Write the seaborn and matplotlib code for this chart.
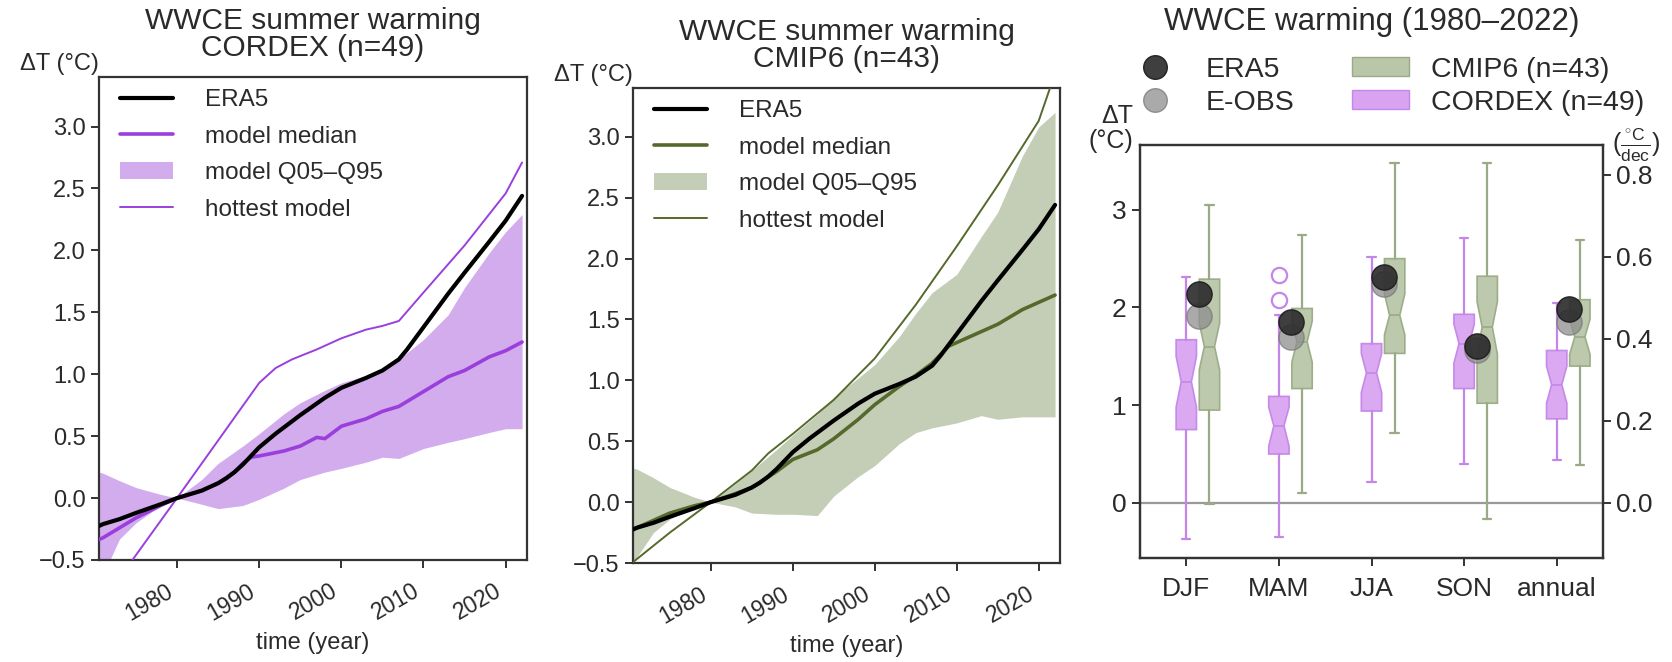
import numpy as np
import pandas as pd
import matplotlib
matplotlib.use("Agg")
import matplotlib.pyplot as plt
from matplotlib.lines import Line2D
from matplotlib.patches import Patch
import seaborn as sns

# ---------------------------------------------------------------- data
era5_years = [1970, 1971, 1973, 1975, 1978, 1980, 1983, 1985, 1986, 1987, 1988,
              1989, 1990, 1992, 1993, 1995, 1998, 2000, 2003, 2005, 2007, 2008,
              2010, 2013, 2015, 2018, 2020, 2022]
era5_dt = [-0.24, -0.21, -0.17, -0.12, -0.05, 0.0, 0.06, 0.12, 0.16, 0.21, 0.27,
           0.34, 0.41, 0.52, 0.57, 0.67, 0.81, 0.89, 0.97, 1.03, 1.12, 1.20,
           1.38, 1.65, 1.82, 2.07, 2.24, 2.44]

band_years = [1970, 1971, 1973, 1975, 1978, 1980, 1983, 1985, 1988, 1990, 1993,
              1995, 1998, 2000, 2003, 2005, 2007, 2010, 2013, 2015, 2018, 2020,
              2022]

# CORDEX ensemble
cordex_med_years = [1970, 1971, 1973, 1975, 1978, 1980, 1983, 1985, 1987, 1988,
                    1989, 1990, 1993, 1995, 1997, 1998, 2000, 2003, 2005, 2007,
                    2010, 2013, 2015, 2018, 2020, 2022]
cordex_median = [-0.35, -0.32, -0.24, -0.16, -0.06, 0.0, 0.06, 0.12, 0.21, 0.28,
                 0.33, 0.34, 0.38, 0.42, 0.49, 0.48, 0.58, 0.64, 0.70, 0.74,
                 0.86, 0.98, 1.03, 1.14, 1.19, 1.26]
cordex_hot_years = [1970, 1980, 1990, 1992, 1994, 1997, 2000, 2003, 2005, 2007,
                    2010, 2015, 2020, 2022]
cordex_hottest = [-0.92, 0.0, 0.93, 1.05, 1.12, 1.20, 1.29, 1.36, 1.39, 1.43,
                  1.66, 2.04, 2.46, 2.71]
cordex_q95 = [0.22, 0.20, 0.14, 0.085, 0.03, 0.0, 0.15, 0.28, 0.42, 0.52, 0.68,
              0.77, 0.87, 0.93, 0.99, 1.05, 1.12, 1.28, 1.48, 1.70, 1.98, 2.15,
              2.29]
cordex_q05 = [-0.70, -0.62, -0.33, -0.20, -0.06, 0.0, -0.05, -0.085, -0.06,
              -0.01, 0.08, 0.15, 0.21, 0.24, 0.29, 0.33, 0.32, 0.40, 0.45, 0.48,
              0.53, 0.56, 0.56]

# CMIP6 ensemble
cmip_med_years = [1970, 1971, 1973, 1975, 1978, 1980, 1983, 1985, 1988, 1990,
                  1993, 1995, 1998, 2000, 2003, 2005, 2007, 2009, 2012, 2015,
                  2018, 2020, 2022]
cmip_median = [-0.23, -0.21, -0.15, -0.09, -0.03, 0.0, 0.07, 0.12, 0.25, 0.35,
               0.43, 0.52, 0.68, 0.80, 0.95, 1.04, 1.14, 1.28, 1.37, 1.46,
               1.58, 1.64, 1.70]
cmip_hot_years = [1970, 1975, 1980, 1985, 1987, 1990, 1995, 2000, 2005, 2010,
                  2015, 2020, 2022]
cmip_hottest = [-0.52, -0.25, 0.0, 0.26, 0.40, 0.56, 0.84, 1.18, 1.62, 2.10,
                2.60, 3.13, 3.52]
cmip_q95 = [0.29, 0.27, 0.20, 0.12, 0.04, 0.0, 0.15, 0.26, 0.43, 0.55, 0.72,
            0.86, 1.02, 1.13, 1.36, 1.55, 1.72, 1.87, 2.18, 2.38, 2.84, 3.08,
            3.20]
cmip_q05 = [-0.52, -0.45, -0.25, -0.14, -0.04, 0.0, -0.04, -0.09, -0.10, -0.10,
            -0.11, 0.05, 0.21, 0.30, 0.48, 0.57, 0.61, 0.65, 0.71, 0.68, 0.70,
            0.70, 0.70]

# Seasonal warming 1980-2022 (degC)
seasons = ["DJF", "MAM", "JJA", "SON", "annual"]
cordex_whislo = [-0.37, -0.35, 0.21, 0.40, 0.44]
cordex_box_q1 = [0.75, 0.50, 0.94, 1.17, 0.86]
cordex_box_med = [1.24, 0.79, 1.33, 1.63, 1.21]
cordex_box_q3 = [1.67, 1.09, 1.63, 1.93, 1.56]
cordex_whishi = [2.31, 1.92, 2.52, 2.71, 2.05]
cordex_cilo = [0.98, 0.58, 1.13, 1.43, 1.02]
cordex_cihi = [1.50, 0.98, 1.53, 1.83, 1.40]
cordex_fliers = [[], [2.08, 2.33], [], [], []]

cmip_whislo = [-0.01, 0.10, 0.72, -0.16, 0.39]
cmip_box_q1 = [0.95, 1.17, 1.53, 1.02, 1.40]
cmip_box_med = [1.60, 1.65, 1.92, 1.80, 1.70]
cmip_box_q3 = [2.29, 1.99, 2.50, 2.32, 2.08]
cmip_whishi = [3.05, 2.74, 3.48, 3.48, 2.69]
cmip_cilo = [1.36, 1.44, 1.72, 1.52, 1.52]
cmip_cihi = [1.84, 1.86, 2.14, 2.06, 1.88]
cmip_fliers = [[], [], [], [], []]

era5_season = [2.14, 1.85, 2.31, 1.61, 1.98]
eobs_season = [1.91, 1.70, 2.24, 1.56, 1.85]

DECADES = 4.2  # 1980-2022

# ---------------------------------------------------------------- style
sns.set_style("ticks")
plt.rcParams["font.family"] = ["Liberation Sans", "DejaVu Sans"]
plt.rcParams["mathtext.fontset"] = "custom"
plt.rcParams["mathtext.rm"] = "Liberation Sans"
plt.rcParams["mathtext.it"] = "Liberation Sans:italic"
TXT = "#2a2a2a"
plt.rcParams.update({
    "text.color": TXT, "axes.labelcolor": TXT,
    "xtick.color": "#333333", "ytick.color": "#333333",
    "xtick.labelcolor": TXT, "ytick.labelcolor": TXT,
    "axes.edgecolor": "#333333", "axes.linewidth": 1.6,
    "xtick.major.width": 1.4, "ytick.major.width": 1.4,
    "xtick.major.size": 6, "ytick.major.size": 6,
})

PURPLE = "#9a3fdc"
PURPLE_BAND = "#d3acee"
GREEN = "#55692c"
GREEN_BAND = "#c4ceb6"
BOX_PURPLE = "#d9a3f2"
BOX_PURPLE_EDGE = "#c486e8"
BOX_GREEN = "#bac6a8"
BOX_GREEN_EDGE = "#9aaa86"

fig = plt.figure(figsize=(16.72, 6.62), dpi=100)
W, H = 1672.0, 662.0


def add_axes_px(x0, y0, x1, y1):
    return fig.add_axes([x0 / W, 1 - y1 / H, (x1 - x0) / W, (y1 - y0) / H])


ax1 = add_axes_px(99, 77, 527, 560)
ax2 = add_axes_px(633, 88, 1060, 563)
ax3 = add_axes_px(1140, 145, 1603, 558)

TICK_FS = 17
LEG_FS = 17.5
TITLE_FS = 21.5


def time_panel(ax, title, med_years, med, hot_years, hot, q05, q95,
               line_c, band_c):
    ax.fill_between(band_years, q05, q95, color=band_c, lw=0, zorder=1)
    sns.lineplot(x=hot_years, y=hot, ax=ax, color=line_c, lw=1.4, zorder=3)
    sns.lineplot(x=med_years, y=med, ax=ax, color=line_c, lw=2.6, zorder=4)
    sns.lineplot(x=era5_years, y=era5_dt, ax=ax, color="black", lw=3.0, zorder=5)
    ax.set_xlim(1970.5, 2022.6)
    ax.set_ylim(-0.5, 3.4)
    ax.set_xticks([1980, 1990, 2000, 2010, 2020])
    ax.set_yticks([-0.5, 0.0, 0.5, 1.0, 1.5, 2.0, 2.5, 3.0])
    ax.set_yticklabels(["\u22120.5", "0.0", "0.5", "1.0", "1.5", "2.0", "2.5", "3.0"])
    ax.tick_params(axis="y", labelsize=TICK_FS)
    ax.tick_params(axis="x", labelsize=16.5, pad=8)
    for lab in ax.get_xticklabels():
        lab.set_rotation(30)
        lab.set_ha("right")
    ax.set_xlabel("time (year)", fontsize=TICK_FS, labelpad=5)
    ax.set_ylabel("")
    ax.set_title(title, fontsize=TITLE_FS, pad=15, linespacing=0.95)
    ax.text(0.0, 1.005, "\u0394T (\u00b0C)", transform=ax.transAxes,
            ha="right", va="bottom", fontsize=TICK_FS)
    handles = [
        Line2D([], [], color="black", lw=3.0),
        Line2D([], [], color=line_c, lw=2.6),
        Patch(facecolor=band_c, edgecolor="none"),
        Line2D([], [], color=line_c, lw=1.4),
    ]
    labels = ["ERA5", "model median", "model Q05\u2013Q95", "hottest model"]
    ax.legend(handles, labels, loc="upper left", frameon=False,
              fontsize=LEG_FS, handlelength=2.2, handletextpad=1.3,
              labelspacing=0.6, borderaxespad=0.1, bbox_to_anchor=(0.02, 1.0))
    for s in ax.spines.values():
        s.set_visible(True)


time_panel(ax1, "WWCE summer warming\nCORDEX (n=49)", cordex_med_years,
           cordex_median, cordex_hot_years, cordex_hottest, cordex_q05,
           cordex_q95, PURPLE, PURPLE_BAND)
time_panel(ax2, "WWCE summer warming\nCMIP6 (n=43)", cmip_med_years,
           cmip_median, cmip_hot_years, cmip_hottest, cmip_q05, cmip_q95,
           GREEN, GREEN_BAND)

# ---------------------------------------------------------------- box panel
pos = np.arange(len(seasons))


def box_stats(lo, q1, med, q3, hi, cilo, cihi, fliers):
    return [dict(whislo=a, q1=b, med=c, q3=d, whishi=e, cilo=f, cihi=g,
                 fliers=np.array(h)) for a, b, c, d, e, f, g, h in
            zip(lo, q1, med, q3, hi, cilo, cihi, fliers)]


def draw_boxes(stats, positions, face, edge):
    ax3.bxp(stats, positions=positions, widths=0.22, capwidths=0.09,
            shownotches=True, patch_artist=True, manage_ticks=False,
            boxprops=dict(facecolor=face, edgecolor=edge, lw=1.2, alpha=0.95),
            whiskerprops=dict(color=edge, lw=1.6),
            capprops=dict(color=edge, lw=1.6),
            medianprops=dict(color=edge, lw=1.2),
            flierprops=dict(marker="o", markerfacecolor="none",
                            markeredgecolor=edge, markersize=11, mew=1.6),
            zorder=3)


ax3.axhline(0, color="#9a9a9a", lw=1.6, zorder=1)
draw_boxes(box_stats(cordex_whislo, cordex_box_q1, cordex_box_med, cordex_box_q3,
                     cordex_whishi, cordex_cilo, cordex_cihi, cordex_fliers),
           pos, BOX_PURPLE, BOX_PURPLE_EDGE)
draw_boxes(box_stats(cmip_whislo, cmip_box_q1, cmip_box_med, cmip_box_q3,
                     cmip_whishi, cmip_cilo, cmip_cihi, cmip_fliers),
           pos + 0.25, BOX_GREEN, BOX_GREEN_EDGE)

obs = pd.DataFrame({"x": np.concatenate([pos + 0.135, pos + 0.135]),
                    "dt": eobs_season + era5_season,
                    "src": ["E-OBS"] * 5 + ["ERA5"] * 5})
sns.scatterplot(data=obs[obs.src == "E-OBS"], x="x", y="dt", ax=ax3,
                color="#8e8e8e", s=330, alpha=0.75, edgecolor="#7a7a7a",
                linewidth=1.0, legend=False, zorder=5)
sns.scatterplot(data=obs[obs.src == "ERA5"], x="x", y="dt", ax=ax3,
                color="#2e2e2e", s=330, alpha=0.92, edgecolor="#1c1c1c",
                linewidth=1.0, legend=False, zorder=6)

ax3.set_xlim(-0.5, 4.5)
ax3.set_ylim(-0.564, 3.663)
ax3.set_xticks(pos)
ax3.set_xticklabels(seasons)
ax3.set_yticks([0, 1, 2, 3])
ax3.set_xlabel("")
ax3.set_ylabel("")
ax3.tick_params(axis="y", labelsize=19)
ax3.tick_params(axis="x", labelsize=19, pad=8)

ax3r = ax3.twinx()
ax3r.set_ylim(np.array(ax3.get_ylim()) / DECADES)
ax3r.set_yticks([0.0, 0.2, 0.4, 0.6, 0.8])
ax3r.set_yticklabels(["0.0", "0.2", "0.4", "0.6", "0.8"])
ax3r.tick_params(labelsize=19)

fig.text((1140 + 1603) / 2 / W, 1 - 30 / H, "WWCE warming (1980\u20132022)",
         ha="center", va="baseline", fontsize=22.5)
ax3.text(-0.015, 1.04, "\u0394T\n(\u00b0C)", transform=ax3.transAxes,
         ha="right", va="center", fontsize=18, linespacing=1.05)
ax3.text(1.02, 1.0, r"($\frac{^{\circ}\mathrm{C}}{\mathrm{dec}}$)",
         transform=ax3.transAxes, ha="left", va="center", fontsize=18)

leg_handles = [
    Line2D([], [], marker="o", ls="", markersize=17, markerfacecolor="#2e2e2e",
           markeredgecolor="#1c1c1c", alpha=0.92),
    Line2D([], [], marker="o", ls="", markersize=17, markerfacecolor="#8e8e8e",
           markeredgecolor="#7a7a7a", alpha=0.75),
    Patch(facecolor=BOX_GREEN, edgecolor=BOX_GREEN_EDGE),
    Patch(facecolor=BOX_PURPLE, edgecolor=BOX_PURPLE_EDGE),
]
leg_labels = ["ERA5", "E-OBS", "CMIP6 (n=43)", "CORDEX (n=49)"]
fig.legend(leg_handles, leg_labels, ncol=2, loc="lower left",
           bbox_to_anchor=(1112 / W, 1 - 130 / H), frameon=False,
           fontsize=20.5, handlelength=2.0, handleheight=0.65,
           handletextpad=0.8, columnspacing=2.0, labelspacing=0.25,
           borderpad=0.0)

fig.savefig("out.png", dpi=100)
